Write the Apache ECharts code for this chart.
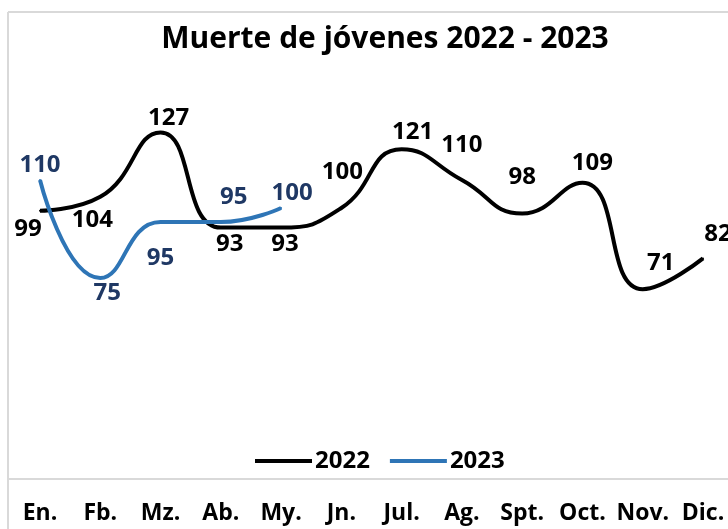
<!DOCTYPE html>
<html>
<head>
<meta charset="utf-8">
<script src="https://cdn.jsdelivr.net/npm/echarts@6/dist/echarts.min.js"></script>
<style>
html,body{margin:0;padding:0;background:#fff;}
#main{width:728px;height:529px;}
</style>
</head>
<body>
<div id="main"></div>
<script>
var meses = ['En.','Fb.','Mz.','Ab.','My.','Jn.','Jul.','Ag.','Spt.','Oct.','Nov.','Dic.'];
var datos2022 = [99,104,127,93,93,100,121,110,98,109,71,82];
var datos2023 = [110,75,95,95,100];

// desplazamiento de cada etiqueta respecto a su punto
var etq2022 = [[-12,18],[-8,23],[8,-14],[9,17],[4,17],[1,-36],[11,-17],[0,-35],[0,-36],[10,-20],[18,-26],[15,-24]];
var etq2023 = [[0,-15],[7,15],[0,36],[13,-25],[11,-15]];

var fuente = '"Open Sans", "Noto Sans", sans-serif';

function armar(valores, desp){
    var res = [];
    for(var i = 0; i < valores.length; i++){
        res.push({
            value: valores[i],
            label: {offset: desp[i]}
        });
    }
    return res;
}

var option = {
    animation: false,
    title: {
        text: 'Muerte de jóvenes 2022 - 2023',
        left: 380,
        top: 19,
        textAlign: 'center',
        textStyle: {
            fontFamily: fuente,
            fontWeight: 'bold',
            fontSize: 30,
            color: '#000'
        }
    },
    legend: {
        left: 250,
        top: 444,
        icon: 'rect',
        itemWidth: 57,
        itemHeight: 4,
        itemGap: 20,
        textStyle: {
            fontFamily: fuente,
            fontWeight: 'bold',
            fontSize: 24,
            color: '#000',
            padding: [0,0,0,-2]
        },
        data: ['2022','2023']
    },
    grid: {
        left: 40,
        right: 25,
        top: 96,
        bottom: 41,
        containLabel: false
    },
    xAxis: {
        type: 'category',
        boundaryGap: false,
        data: meses,
        axisLine: {show: false},
        axisTick: {show: false},
        axisLabel: {
            margin: 14,
            interval: 0,
            fontFamily: fuente,
            fontWeight: 'bold',
            fontSize: 23,
            color: '#000'
        }
    },
    yAxis: {
        type: 'value',
        min: 0,
        max: 140,
        show: false,
        splitLine: {show: false}
    },
    graphic: [
        {type: 'line', shape: {x1: 8, y1: 12, x2: 8, y2: 529}, style: {stroke: '#d9d9d9', lineWidth: 2}},
        {type: 'line', shape: {x1: 8, y1: 12, x2: 728, y2: 12}, style: {stroke: '#d9d9d9', lineWidth: 2}},
        {type: 'line', shape: {x1: 8, y1: 479, x2: 728, y2: 479}, style: {stroke: '#d9d9d9', lineWidth: 2}}
    ],
    series: [
        {
            name: '2022',
            type: 'line',
            smooth: 0.5,
            symbol: 'circle',
            symbolSize: 2,
            showSymbol: true,
            color: '#000000',
            lineStyle: {width: 4, color: '#000000'},
            label: {
                show: true,
                position: 'inside',
                fontFamily: fuente,
                fontWeight: 'bold',
                fontSize: 24,
                color: '#000000'
            },
            data: armar(datos2022, etq2022)
        },
        {
            name: '2023',
            type: 'line',
            smooth: 0.5,
            symbol: 'circle',
            symbolSize: 2,
            showSymbol: true,
            color: '#2e75b6',
            lineStyle: {width: 4, color: '#2e75b6'},
            label: {
                show: true,
                position: 'inside',
                fontFamily: fuente,
                fontWeight: 'bold',
                fontSize: 24,
                color: '#1f3864'
            },
            data: armar(datos2023, etq2023)
        }
    ]
};

var chart = echarts.init(document.getElementById('main'));
chart.setOption(option);
</script>
</body>
</html>
